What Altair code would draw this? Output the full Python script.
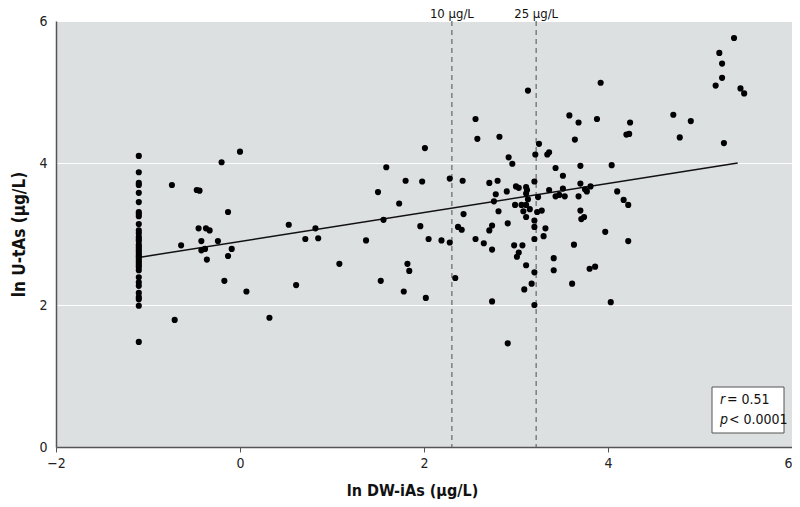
import altair as alt
import pandas as pd

# ---- data ----
col_x = -1.1
col_y = [4.10, 3.87, 3.72, 3.69, 3.58, 3.45, 3.31, 3.28, 3.25, 3.14, 3.05, 3.01, 2.96,
         2.93, 2.90, 2.85, 2.82, 2.79, 2.76, 2.73, 2.70, 2.68, 2.65, 2.62, 2.59, 2.56,
         2.53, 2.49, 2.39, 2.32, 2.27, 2.17, 2.11, 2.08, 1.99, 1.48]

pts_x = [0.00, -0.20, -0.74, -0.47, -0.44, -0.13, -0.45, -0.37, -0.33, -0.64, -0.42, -0.42,
         -0.38, -0.24, -0.09, -0.13, -0.36, -0.17, 0.07, 0.61, 0.53, 0.71, 0.82, 0.85, 1.08,
         -0.71, 0.32,
         2.01, 1.59, 1.80, 1.98, 2.28, 2.42, 1.50, 1.73, 1.56, 1.96, 2.43, 2.37, 2.41, 1.37,
         2.05, 2.19, 2.28, 2.56, 1.82, 1.84, 1.53, 1.78, 2.02, 2.34, 2.58,
         3.13, 2.56, 2.82, 3.25, 3.21, 3.34, 3.36, 2.92, 2.96, 3.43, 3.51, 2.71, 2.80, 3.20,
         2.90, 2.78, 2.76, 3.00, 3.03, 3.11, 3.12, 3.11, 3.13, 3.24, 3.36, 3.51, 3.43, 3.47,
         3.53, 2.99, 3.06, 3.11, 3.15, 3.08, 3.23, 3.28, 3.11, 2.81, 3.20, 3.20, 3.32, 3.30,
         3.20, 2.91, 2.74, 2.71, 2.65, 2.74, 2.98, 3.07, 3.03, 3.01, 3.41, 3.41, 3.11, 3.20,
         3.17, 3.09, 2.74, 3.20, 2.91,
         5.37, 5.21, 5.24, 5.24, 5.17, 5.44, 5.48, 3.92, 3.58, 3.68, 3.88, 4.24, 4.20, 4.23,
         4.71, 4.90, 4.78, 5.26, 3.64, 3.70, 4.04, 3.70, 3.81, 3.75, 3.77, 3.68, 4.10, 4.17,
         4.22, 3.70, 3.71, 3.74, 3.97, 4.22, 3.63, 3.80, 3.86, 3.61, 4.03]
pts_y = [4.16, 4.01, 3.69, 3.62, 3.61, 3.31, 3.08, 3.08, 3.05, 2.84, 2.90, 2.77,
         2.79, 2.90, 2.79, 2.69, 2.64, 2.34, 2.19, 2.28, 3.13, 2.93, 3.08, 2.94, 2.58,
         1.79, 1.82,
         4.21, 3.94, 3.75, 3.74, 3.78, 3.75, 3.59, 3.43, 3.20, 3.11, 3.28, 3.10, 3.06, 2.91,
         2.93, 2.91, 2.88, 2.93, 2.58, 2.48, 2.34, 2.19, 2.10, 2.38, 4.34,
         5.02, 4.62, 4.37, 4.27, 4.12, 4.12, 4.15, 4.08, 3.99, 3.93, 3.82, 3.72, 3.75, 3.74,
         3.60, 3.56, 3.46, 3.67, 3.65, 3.66, 3.62, 3.57, 3.49, 3.52, 3.62, 3.64, 3.53, 3.55,
         3.53, 3.41, 3.41, 3.41, 3.35, 3.32, 3.31, 3.33, 3.24, 3.32, 3.19, 3.10, 3.08, 2.97,
         2.93, 3.15, 3.12, 3.05, 2.87, 2.78, 2.84, 2.84, 2.74, 2.68, 2.66, 2.49, 2.56, 2.46,
         2.30, 2.22, 2.05, 2.00, 1.46,
         5.76, 5.55, 5.40, 5.20, 5.09, 5.05, 4.98, 5.13, 4.67, 4.57, 4.62, 4.57, 4.40, 4.41,
         4.68, 4.59, 4.36, 4.28, 4.33, 3.96, 3.97, 3.71, 3.67, 3.63, 3.60, 3.53, 3.60, 3.48,
         3.41, 3.33, 3.21, 3.24, 3.03, 2.90, 2.85, 2.51, 2.54, 2.30, 2.04]

reg_x = [-1.1, 5.41]
reg_y = [2.67, 4.00]

thr_x = [2.303, 3.219]
thr_label = ["10 µg/L", "25 µg/L"]

x_ticks = [-2, 0, 2, 4, 6]
y_ticks = [0, 2, 4, 6]

FONT = "DejaVu Sans Condensed"

pts = pd.DataFrame({"x": [col_x] * len(col_y) + pts_x, "y": col_y + pts_y})
reg = pd.DataFrame({"x": reg_x, "y": reg_y})
thr = pd.DataFrame({"x": thr_x, "label": thr_label})

xs = alt.Scale(domain=[-2, 6], nice=False, zero=False)
ys = alt.Scale(domain=[0, 6], nice=False)

xaxis = alt.Axis(values=x_ticks, format="d", grid=False, title="ln DW-iAs (µg/L)",
                 domainColor="#555", domainWidth=1.5, tickColor="#555", tickSize=5,
                 labelFlush=False, labelOverlap=False,
                 labelAlign={"condition": {"test": "datum.value == 6", "value": "right"},
                             "value": "center"},
                 labelFontSize=14, labelColor="#222", labelPadding=4,
                 titleFontSize=16, titleFontWeight="bold", titleColor="#111",
                 titlePadding=12, titleX=356, labelFont=FONT, titleFont=FONT)
yaxis = alt.Axis(values=y_ticks, format="d", grid=True, gridColor="white", gridWidth=1.2,
                 ticks=False, title="ln U-tAs (µg/L)", labelFlush=False, labelOverlap=False,
                 domainColor="#555", domainWidth=1.5,
                 labelFontSize=14, labelColor="#222", labelPadding=9,
                 titleFontSize=17, titleFontWeight="bold", titleColor="#111",
                 titlePadding=10, labelFont=FONT, titleFont=FONT)

points = alt.Chart(pts).mark_circle(size=38, color="black", opacity=1).encode(
    x=alt.X("x:Q", scale=xs, axis=xaxis),
    y=alt.Y("y:Q", scale=ys, axis=yaxis),
)

line = alt.Chart(reg).mark_line(color="#111", strokeWidth=1.5).encode(
    x=alt.X("x:Q", scale=xs), y=alt.Y("y:Q", scale=ys))

rules = alt.Chart(thr).mark_rule(color="#666", strokeDash=[5, 4], strokeWidth=1.2).encode(
    x=alt.X("x:Q", scale=xs), y=alt.value(0), y2=alt.value(426))

thr_text = alt.Chart(thr).mark_text(font=FONT, fontSize=13, color="#111", baseline="top").encode(
    x=alt.X("x:Q", scale=xs), y=alt.value(-13), text="label:N")

box = alt.Chart(pd.DataFrame({"a": [0]})).mark_rect(fill="white", stroke="#555", strokeWidth=1).encode(
    x=alt.value(656), x2=alt.value(728), y=alt.value(366), y2=alt.value(412))

stat = pd.DataFrame({"a": [0]})
r_it = alt.Chart(stat).mark_text(font=FONT, fontSize=14, fontStyle="italic", align="left",
                                 baseline="middle", color="#111", text="r").encode(
    x=alt.value(664), y=alt.value(379))
r_txt = alt.Chart(stat).mark_text(font=FONT, fontSize=14, align="left",
                                  baseline="middle", color="#111", text="= 0.51").encode(
    x=alt.value(671), y=alt.value(379))
p_it = alt.Chart(stat).mark_text(font=FONT, fontSize=14, fontStyle="italic", align="left",
                                 baseline="middle", color="#111", text="p").encode(
    x=alt.value(664), y=alt.value(399))
p_txt = alt.Chart(stat).mark_text(font=FONT, fontSize=14, align="left",
                                  baseline="middle", color="#111", text="< 0.0001").encode(
    x=alt.value(673), y=alt.value(399))

chart = alt.layer(rules, line, points, thr_text, box, r_it, r_txt, p_it, p_txt).properties(
    width=736, height=426,
    autosize=alt.AutoSizeParams(type="none"),
    padding={"left": 48, "top": 13, "right": 0, "bottom": 52},
    background="white",
).configure_view(fill="#dde0e1", stroke="transparent")

chart.save("out.html", embed_options={"renderer": "svg", "actions": False})
